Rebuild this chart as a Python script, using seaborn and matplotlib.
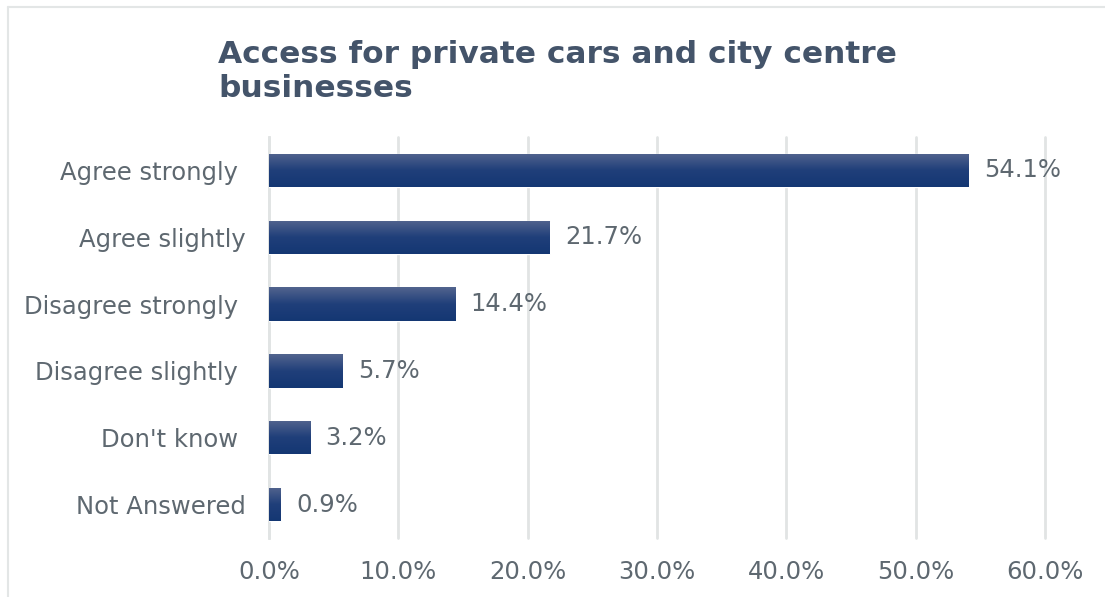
import numpy as np
import pandas as pd
import matplotlib.pyplot as plt
import seaborn as sns
from matplotlib.lines import Line2D

sns.set_style("white")
plt.rcParams['font.family'] = ['DejaVu Sans']

categories = ["Agree strongly ", "Agree slightly", "Disagree strongly ",
              "Disagree slightly ", "Don't know ", "Not Answered"]
values = [54.1, 21.7, 14.4, 5.7, 3.2, 0.9]
ticks = [0, 10, 20, 30, 40, 50, 60]

df = pd.DataFrame({"answer": categories, "pct": values})

text_col = "#5e6870"
grid_col = "#e1e4e4"

fig = plt.figure(figsize=(11.05, 5.97), dpi=100)
ax = fig.add_axes([269 / 1105, 1 - 538 / 597, (1045 - 269) / 1105, (538 - 137) / 597])

sns.barplot(data=df, x="pct", y="answer", color="#143a78", width=0.5, ax=ax, zorder=3)

# gradient fill on each bar (light on top, dark navy below)
grad = np.linspace(0, 1, 100).reshape(-1, 1)
cmap = sns.blend_palette(["#52648e", "#203f7a", "#143773"], as_cmap=True)
for p in ax.patches:
    x0, y0 = p.get_x(), p.get_y()
    w, h = p.get_width(), p.get_height()
    im = ax.imshow(grad, cmap=cmap, aspect="auto", extent=[x0, x0 + w, y0 + h, y0],
                   zorder=4, interpolation="bicubic")
    im.set_clip_path(p)

ax.bar_label(ax.containers[0], labels=[f"{v:.1f}%" for v in values], padding=11,
             fontsize=17.5, color=text_col, zorder=5)

ax.set_xlim(0, 60)
ax.set_ylim(5.5, -0.5)
ax.set_xticks(ticks)
ax.set_xticklabels([f"{t:.1f}%" for t in ticks])
ax.xaxis.grid(True, color=grid_col, lw=2, zorder=0)
for gl in ax.get_xgridlines():
    gl.set_clip_on(False)
ax.tick_params(axis="x", length=0, pad=16, labelsize=17.5, labelcolor=text_col)
ax.tick_params(axis="y", length=0, pad=17, labelsize=17.5, labelcolor=text_col)
ax.set_xlabel("")
ax.set_ylabel("")
for s in ["top", "right", "bottom"]:
    ax.spines[s].set_visible(False)
ax.spines["left"].set_color(grid_col)
ax.spines["left"].set_linewidth(2)

fig.text(218 / 1105, 1 - 97 / 597, "Access for private cars and city centre\nbusinesses",
         fontsize=22.5, fontweight="bold", color="#44546a", ha="left", va="baseline")

# chart frame: top and left edges only
border = "#e3e6e6"
fig.add_artist(Line2D([8 / 1105, 1], [1 - 7 / 597, 1 - 7 / 597], transform=fig.transFigure,
                      color=border, lw=1.5))
fig.add_artist(Line2D([8 / 1105, 8 / 1105], [0, 1 - 7 / 597], transform=fig.transFigure,
                      color=border, lw=1.5))

fig.savefig("out.png", dpi=100)
